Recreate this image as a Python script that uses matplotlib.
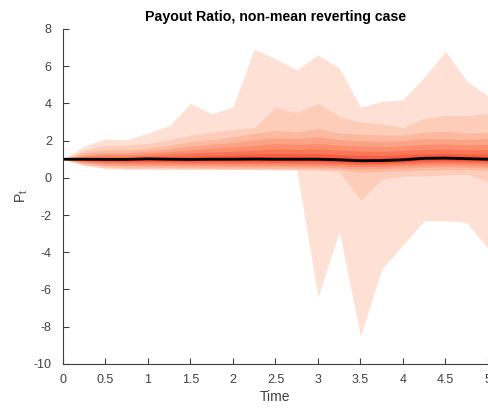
import matplotlib
matplotlib.use("Agg")
import matplotlib.pyplot as plt
import numpy as np

plt.rcParams['font.family'] = ['Liberation Sans', 'DejaVu Sans']
plt.rcParams['mathtext.default'] = 'regular'
plt.rcParams['axes.unicode_minus'] = False

# simulation time grid
t = np.arange(0, 5.01, 0.25)

# median payout ratio path
median = [1.0, 1.0, 0.99, 0.99, 1.02, 1.0, 0.99, 1.0, 1.0, 1.01, 1.0, 1.0, 1.0,
          0.97, 0.92, 0.93, 0.97, 1.05, 1.06, 1.03, 1.0]

# percentile bands, outermost first (upper / lower edges)
upper = [
    [1.0, 1.7, 2.1, 2.05, 2.4, 2.8, 4.0, 3.45, 3.8, 6.9, 6.4, 5.8, 6.6, 5.9, 3.8, 4.1, 4.2, 5.4, 6.8, 5.2, 4.4],
    [1.0, 1.5, 1.75, 1.75, 1.85, 2.05, 2.3, 2.45, 2.6, 2.7, 3.8, 3.5, 4.0, 3.3, 3.0, 2.9, 2.7, 3.2, 3.35, 3.35, 3.45],
    [1.0, 1.35, 1.5, 1.5, 1.6, 1.75, 1.95, 2.05, 2.2, 2.4, 2.55, 2.45, 2.65, 2.4, 2.35, 2.3, 2.3, 2.45, 2.5, 2.4, 2.45],
    [1.0, 1.25, 1.35, 1.35, 1.45, 1.55, 1.7, 1.8, 1.9, 2.05, 2.15, 2.1, 2.2, 2.05, 2.0, 1.95, 2.0, 2.1, 2.1, 2.05, 2.1],
    [1.0, 1.18, 1.25, 1.25, 1.32, 1.4, 1.5, 1.58, 1.65, 1.75, 1.85, 1.8, 1.85, 1.75, 1.7, 1.68, 1.72, 1.8, 1.82, 1.78, 1.8],
    [1.0, 1.12, 1.17, 1.17, 1.22, 1.27, 1.33, 1.38, 1.43, 1.5, 1.55, 1.52, 1.55, 1.48, 1.43, 1.42, 1.46, 1.52, 1.55, 1.5, 1.52],
    [1.0, 1.07, 1.1, 1.1, 1.13, 1.15, 1.18, 1.21, 1.24, 1.28, 1.3, 1.28, 1.3, 1.24, 1.2, 1.2, 1.24, 1.3, 1.32, 1.28, 1.28],
    [1.0, 1.03, 1.05, 1.05, 1.08, 1.07, 1.08, 1.1, 1.11, 1.13, 1.13, 1.12, 1.13, 1.09, 1.04, 1.05, 1.09, 1.16, 1.18, 1.14, 1.12],
]
lower = [
    [1.0, 0.65, 0.5, 0.45, 0.45, 0.45, 0.45, 0.45, 0.45, 0.45, 0.45, 0.45, -6.4, -2.9, -8.5, -4.9, -3.6, -2.3, -2.3, -2.4, -3.8],
    [1.0, 0.7, 0.55, 0.5, 0.5, 0.48, 0.47, 0.45, 0.45, 0.45, 0.43, 0.42, 0.4, 0.35, -1.2, -0.1, 0.1, 0.1, 0.15, 0.2, -0.2],
    [1.0, 0.75, 0.62, 0.58, 0.58, 0.56, 0.55, 0.53, 0.52, 0.52, 0.5, 0.5, 0.48, 0.45, 0.3, 0.35, 0.38, 0.42, 0.45, 0.45, 0.4],
    [1.0, 0.8, 0.7, 0.66, 0.66, 0.64, 0.63, 0.62, 0.61, 0.6, 0.6, 0.59, 0.58, 0.55, 0.48, 0.5, 0.53, 0.58, 0.6, 0.58, 0.55],
    [1.0, 0.85, 0.77, 0.74, 0.74, 0.72, 0.71, 0.7, 0.7, 0.69, 0.69, 0.68, 0.68, 0.65, 0.6, 0.62, 0.65, 0.7, 0.72, 0.7, 0.67],
    [1.0, 0.89, 0.83, 0.81, 0.82, 0.8, 0.79, 0.79, 0.78, 0.78, 0.78, 0.77, 0.77, 0.74, 0.7, 0.71, 0.75, 0.8, 0.82, 0.8, 0.77],
    [1.0, 0.93, 0.89, 0.88, 0.89, 0.87, 0.86, 0.87, 0.86, 0.86, 0.86, 0.86, 0.86, 0.83, 0.78, 0.79, 0.83, 0.89, 0.91, 0.88, 0.86],
    [1.0, 0.96, 0.94, 0.94, 0.96, 0.94, 0.93, 0.94, 0.94, 0.94, 0.93, 0.93, 0.93, 0.9, 0.85, 0.86, 0.9, 0.97, 0.98, 0.95, 0.93],
]

fig = plt.figure(figsize=(4.88, 4.08), dpi=100)
ax = fig.add_axes([0.129, 0.108, 0.871, 0.821])

shades = np.linspace(0.12, 0.6, len(upper))
for hi, lo, s in zip(upper, lower, shades):
    ax.fill_between(t, lo, hi, color=plt.cm.Reds(s), linewidth=0)

ax.plot(t, median, color='black', linewidth=2)

ax.set_xlim(0, 5)
ax.set_ylim(-10, 8)
ax.set_xticks(np.arange(0, 5.01, 0.5))
ax.set_xticklabels(['0', '0.5', '1', '1.5', '2', '2.5', '3', '3.5', '4', '4.5', '5'])
ax.set_yticks(np.arange(-10, 8.1, 2))

grey = '#404040'
for side in ['top', 'right']:
    ax.spines[side].set_visible(False)
for side in ['left', 'bottom']:
    ax.spines[side].set_color(grey)
    ax.spines[side].set_linewidth(0.8)
ax.tick_params(direction='in', length=4, width=0.8, colors=grey, labelsize=9)
ax.tick_params(axis='x', pad=7)
ax.tick_params(axis='y', pad=8)
for lbl in ax.get_xticklabels() + ax.get_yticklabels():
    lbl.set_color(grey)

ax.set_title('Payout Ratio, non-mean reverting case', fontsize=10.2, fontweight='bold', pad=6)
ax.set_xlabel('Time', fontsize=10, color=grey, labelpad=3)
ax.set_ylabel('P$_t$', fontsize=10, color=grey, labelpad=3)

fig.savefig('out.png', dpi=100)
